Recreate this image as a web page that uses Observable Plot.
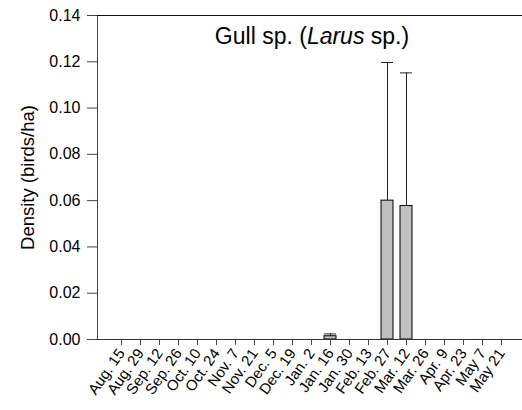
<!DOCTYPE html>
<html>
<head>
<meta charset="utf-8">
<script src="https://cdn.jsdelivr.net/npm/d3@7"></script>
<script src="https://cdn.jsdelivr.net/npm/@observablehq/plot@0.6"></script>
<style>
  html, body { margin: 0; padding: 0; background: #fff; }
  #chart svg { display: block; font-family: "Liberation Sans", Arial, sans-serif; }
</style>
</head>
<body>
<div id="chart"></div>
<script>
const dates = ["Aug. 15","Aug. 29","Sep. 12","Sep. 26","Oct. 10","Oct. 24","Nov. 7","Nov. 21","Dec. 5","Dec. 19","Jan. 2","Jan. 16","Jan. 30","Feb. 13","Feb. 27","Mar. 12","Mar. 26","Apr. 9","Apr. 23","May 7","May 21"];
const density = [0,0,0,0,0,0,0,0,0,0,0,0.0014,0,0,0.060,0.0577,0,0,0,0,0];
const stdErr  = [0,0,0,0,0,0,0,0,0,0,0,0.0010,0,0,0.0597,0.0575,0,0,0,0,0];
const yTicks = [0,0.02,0.04,0.06,0.08,0.10,0.12,0.14];
const titleText = "Gull sp. (Larus sp.)";

const data = dates.map((d, i) => ({date: d, value: density[i], top: density[i] + stdErr[i], err: stdErr[i]}));
const withErr = data.filter(d => d.err > 0);

const chart = Plot.plot({
  width: 522,
  height: 410,
  marginTop: 15,
  marginBottom: 71,
  marginLeft: 97,
  marginRight: 0,
  style: {fontFamily: '"Liberation Sans", Arial, sans-serif', fontSize: "15px", color: "#000"},
  x: {domain: dates, range: [97, 525.4], paddingInner: 0.357, paddingOuter: 0.69, align: 0.5},
  y: {domain: [0, 0.14]},
  marks: [
    Plot.barY(data, {x: "date", y: "value", fill: "#c0c0c0", stroke: "#000", strokeWidth: 1}),
    Plot.ruleX(withErr, {x: "date", y1: "value", y2: "top", stroke: "#222", strokeWidth: 1}),
    Plot.tickY(withErr, {x: "date", y: "top", stroke: "#222", strokeWidth: 1}),
    Plot.frame({anchor: "left", stroke: "#444"}),
    Plot.frame({anchor: "bottom", stroke: "#333"}),
    Plot.frame({anchor: "top", stroke: "#111"}),
    Plot.axisY({ticks: yTicks, tickFormat: d3.format(".2f"), tickSize: 10, tickPadding: 7, stroke: "#444",
      fontSize: 16, label: null}),
    Plot.axisY({ticks: [], label: "Density (birds/ha)", labelAnchor: "center", labelArrow: "none",
      labelOffset: 77, fontSize: 18.5, tickSize: 0}),
    Plot.axisX({tickSize: 6, tickRotate: -55, tickPadding: 5, stroke: "#444", label: null, fontSize: 15}),
    Plot.text([titleText], {frameAnchor: "top", dy: 21, dx: 2, fontSize: 23, lineAnchor: "middle", fill: "#000"})
  ]
});

const svg = d3.select(chart);
// italicize the genus name in the title while keeping it real text
svg.selectAll("text").filter(function() { return this.textContent === titleText; })
  .each(function() {
    const t = d3.select(this);
    t.text(null);
    t.append("tspan").text("Gull sp. (");
    t.append("tspan").attr("font-style", "italic").text("Larus");
    t.append("tspan").text(" sp.)");
  });

document.getElementById("chart").appendChild(chart);
</script>
</body>
</html>
